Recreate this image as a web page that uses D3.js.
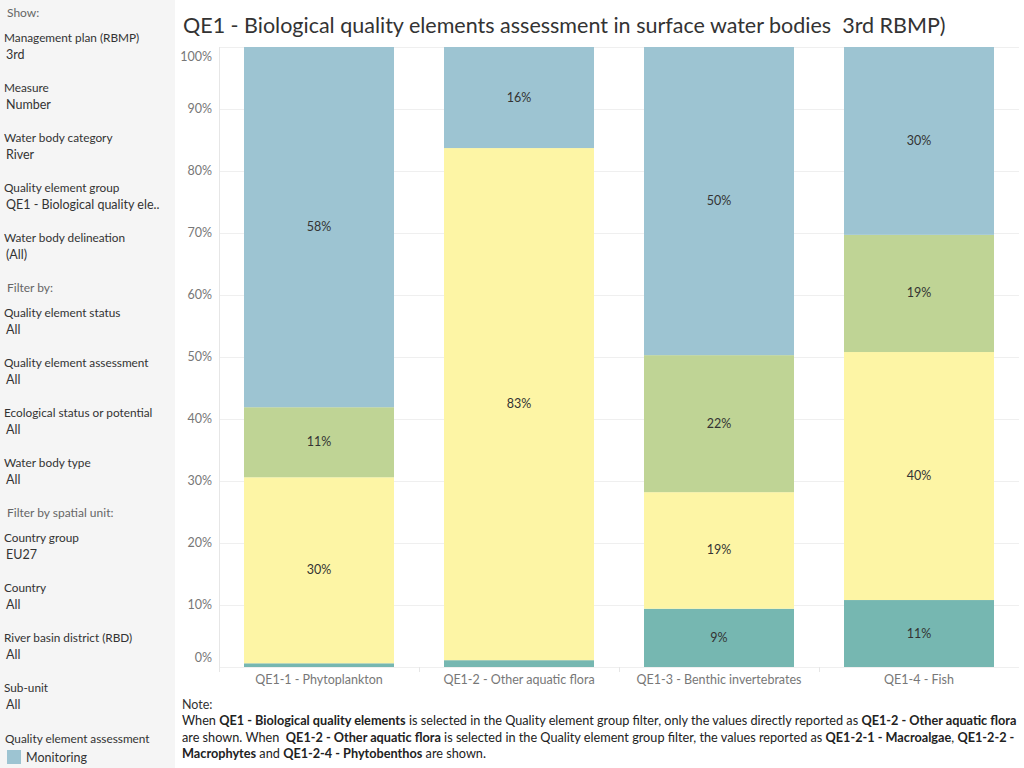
<!DOCTYPE html>
<meta charset="utf-8">
<script src="https://d3js.org/d3.v7.min.js"></script>
<style>
  body { margin: 0; background: #fff; }
  text { font-family: Lato, "Open Sans", sans-serif; white-space: pre; }
</style>
<body>
<div id="chart"></div>
<script>
  // categories and series (share of water bodies, %)
  var categories = ["QE1-1 - Phytoplankton", "QE1-2 - Other aquatic flora", "QE1-3 - Benthic invertebrates", "QE1-4 - Fish"];
  var seriesNames = ["Other", "Expert judgement", "Grouping", "Monitoring"];   // bottom -> top
  var otherVals = [0.6, 1.1, 9.4, 10.8];
  var expertVals = [30.0, 82.6, 18.8, 40.0];
  var groupingVals = [11.3, 0, 22.1, 18.9];
  var monitoringVals = [58.1, 16.3, 49.7, 30.3];
  var yTicks = [0, 10, 20, 30, 40, 50, 60, 70, 80, 90, 100];

  var colors = { "Other": "#76b7b1", "Expert judgement": "#fdf5a5", "Grouping": "#bfd495", "Monitoring": "#9dc4d2" };

  var filters = [
    ["Management plan (RBMP)", "3rd"],
    ["Measure", "Number"],
    ["Water body category", "River"],
    ["Quality element group", "QE1 - Biological quality ele.."],
    ["Water body delineation", "(All)"],
    ["Quality element status", "All"],
    ["Quality element assessment", "All"],
    ["Ecological status or potential", "All"],
    ["Water body type", "All"],
    ["Country group", "EU27"],
    ["Country", "All"],
    ["River basin district (RBD)", "All"],
    ["Sub-unit", "All"]
  ];

  var W = 1024, H = 768;
  var svg = d3.select("#chart").append("svg").attr("width", W).attr("height", H);

  // ---- left panel
  svg.append("rect").attr("width", 175).attr("height", H).attr("fill", "#f5f5f5");
  var panel = svg.append("g");
  function head(txt, y) {
    panel.append("text").attr("x", 7).attr("y", y).attr("fill", "#666").style("font-size", "12px").text(txt);
  }
  head("Show:", 17);
  head("Filter by:", 292);
  head("Filter by spatial unit:", 517);
  var ys = [42, 92, 142, 192, 242, 317, 367, 417, 467, 542, 592, 642, 692];
  filters.forEach(function (f, i) {
    panel.append("text").attr("x", 4).attr("y", ys[i]).attr("fill", "#333").style("font-size", "11.8px").text(f[0]);
    panel.append("text").attr("x", 6).attr("y", ys[i] + 17).attr("fill", "#333").style("font-size", "12.5px").text(f[1]);
  });
  panel.append("text").attr("x", 5).attr("y", 743).attr("fill", "#333").style("font-size", "11.8px").text("Quality element assessment");
  panel.append("rect").attr("x", 7).attr("y", 750).attr("width", 14).attr("height", 14).attr("fill", colors["Monitoring"]);
  panel.append("text").attr("x", 26).attr("y", 762).attr("fill", "#333").style("font-size", "12.5px").text("Monitoring");

  // ---- title
  svg.append("text").attr("x", 183).attr("y", 33).attr("fill", "#333").style("font-size", "21.5px")
    .text("QE1 - Biological quality elements assessment in surface water bodies  3rd RBMP)");

  // ---- plot
  var x = d3.scaleBand().domain(categories).range([219, 1019]).paddingInner(0.25).paddingOuter(0.125);
  var y = d3.scaleLinear().domain([0, 100]).range([667, 47]);

  svg.append("g").selectAll("line").data(yTicks).join("line")
    .attr("x1", 219).attr("x2", 1019).attr("y1", function (d) { return y(d) + 0.5; }).attr("y2", function (d) { return y(d) + 0.5; })
    .attr("stroke", "#efefef");
  svg.append("line").attr("x1", 219.5).attr("x2", 219.5).attr("y1", 47).attr("y2", 672).attr("stroke", "#e6e6e6");
  svg.append("g").selectAll("line").data([419, 619, 819]).join("line")
    .attr("x1", function (d) { return d + 0.5; }).attr("x2", function (d) { return d + 0.5; })
    .attr("y1", 667).attr("y2", 672).attr("stroke", "#e6e6e6");

  svg.append("g").selectAll("text").data(yTicks).join("text")
    .attr("x", 212).attr("text-anchor", "end").attr("fill", "#777").style("font-size", "12.5px")
    .attr("y", function (d) { return y(d) + (d === 100 ? 14 : d === 0 ? -5 : 4); })
    .text(function (d) { return d + "%"; });

  var rows = categories.map(function (c, i) {
    return { cat: c, "Other": otherVals[i], "Expert judgement": expertVals[i], "Grouping": groupingVals[i], "Monitoring": monitoringVals[i] };
  });
  var stack = d3.stack().keys(seriesNames)(rows);

  var layers = svg.append("g").selectAll("g").data(stack).join("g")
    .attr("fill", function (d) { return colors[d.key]; });
  layers.selectAll("rect").data(function (d) { return d; }).join("rect")
    .attr("x", function (d) { return x(d.data.cat); })
    .attr("width", x.bandwidth())
    .attr("y", function (d) { return y(d[1]); })
    .attr("height", function (d) { return y(d[0]) - y(d[1]); });

  layers.selectAll("text").data(function (d) { return d.filter(function (p) { return p[1] - p[0] >= 5; }); }).join("text")
    .attr("x", function (d) { return x(d.data.cat) + x.bandwidth() / 2; })
    .attr("y", function (d) { return (y(d[0]) + y(d[1])) / 2 + 4; })
    .attr("text-anchor", "middle").attr("fill", "#333").style("font-size", "12.5px")
    .text(function (d) { return Math.round(d[1] - d[0]) + "%"; });

  svg.append("g").selectAll("text").data(categories).join("text")
    .attr("x", function (d) { return x(d) + x.bandwidth() / 2; }).attr("y", 684)
    .attr("text-anchor", "middle").attr("fill", "#777").style("font-size", "12.5px")
    .text(function (d) { return d; });

  // ---- note
  var note = [
    [["When ", 0], ["QE1 - Biological quality elements", 1], [" is selected in the Quality element group filter, only the values directly reported as ", 0], ["QE1-2 - Other aquatic flora", 1]],
    [["are shown. When  ", 0], ["QE1-2 - Other aquatic flora", 1], [" is selected in the Quality element group filter, the values reported as ", 0], ["QE1-2-1 - Macroalgae", 1], [", ", 0], ["QE1-2-2 -", 1]],
    [["Macrophytes", 1], [" and ", 0], ["QE1-2-4 - Phytobenthos", 1], [" are shown.", 0]]
  ];
  svg.append("text").attr("x", 182).attr("y", 709).attr("fill", "#333").style("font-size", "12.5px").text("Note:");
  note.forEach(function (line, i) {
    var t = svg.append("text").attr("x", 182).attr("y", 725 + i * 16.5).attr("fill", "#222").style("font-size", "12.7px");
    line.forEach(function (s) {
      t.append("tspan").attr("font-weight", s[1] ? "bold" : "normal").text(s[0]);
    });
  });
</script>
</body>
